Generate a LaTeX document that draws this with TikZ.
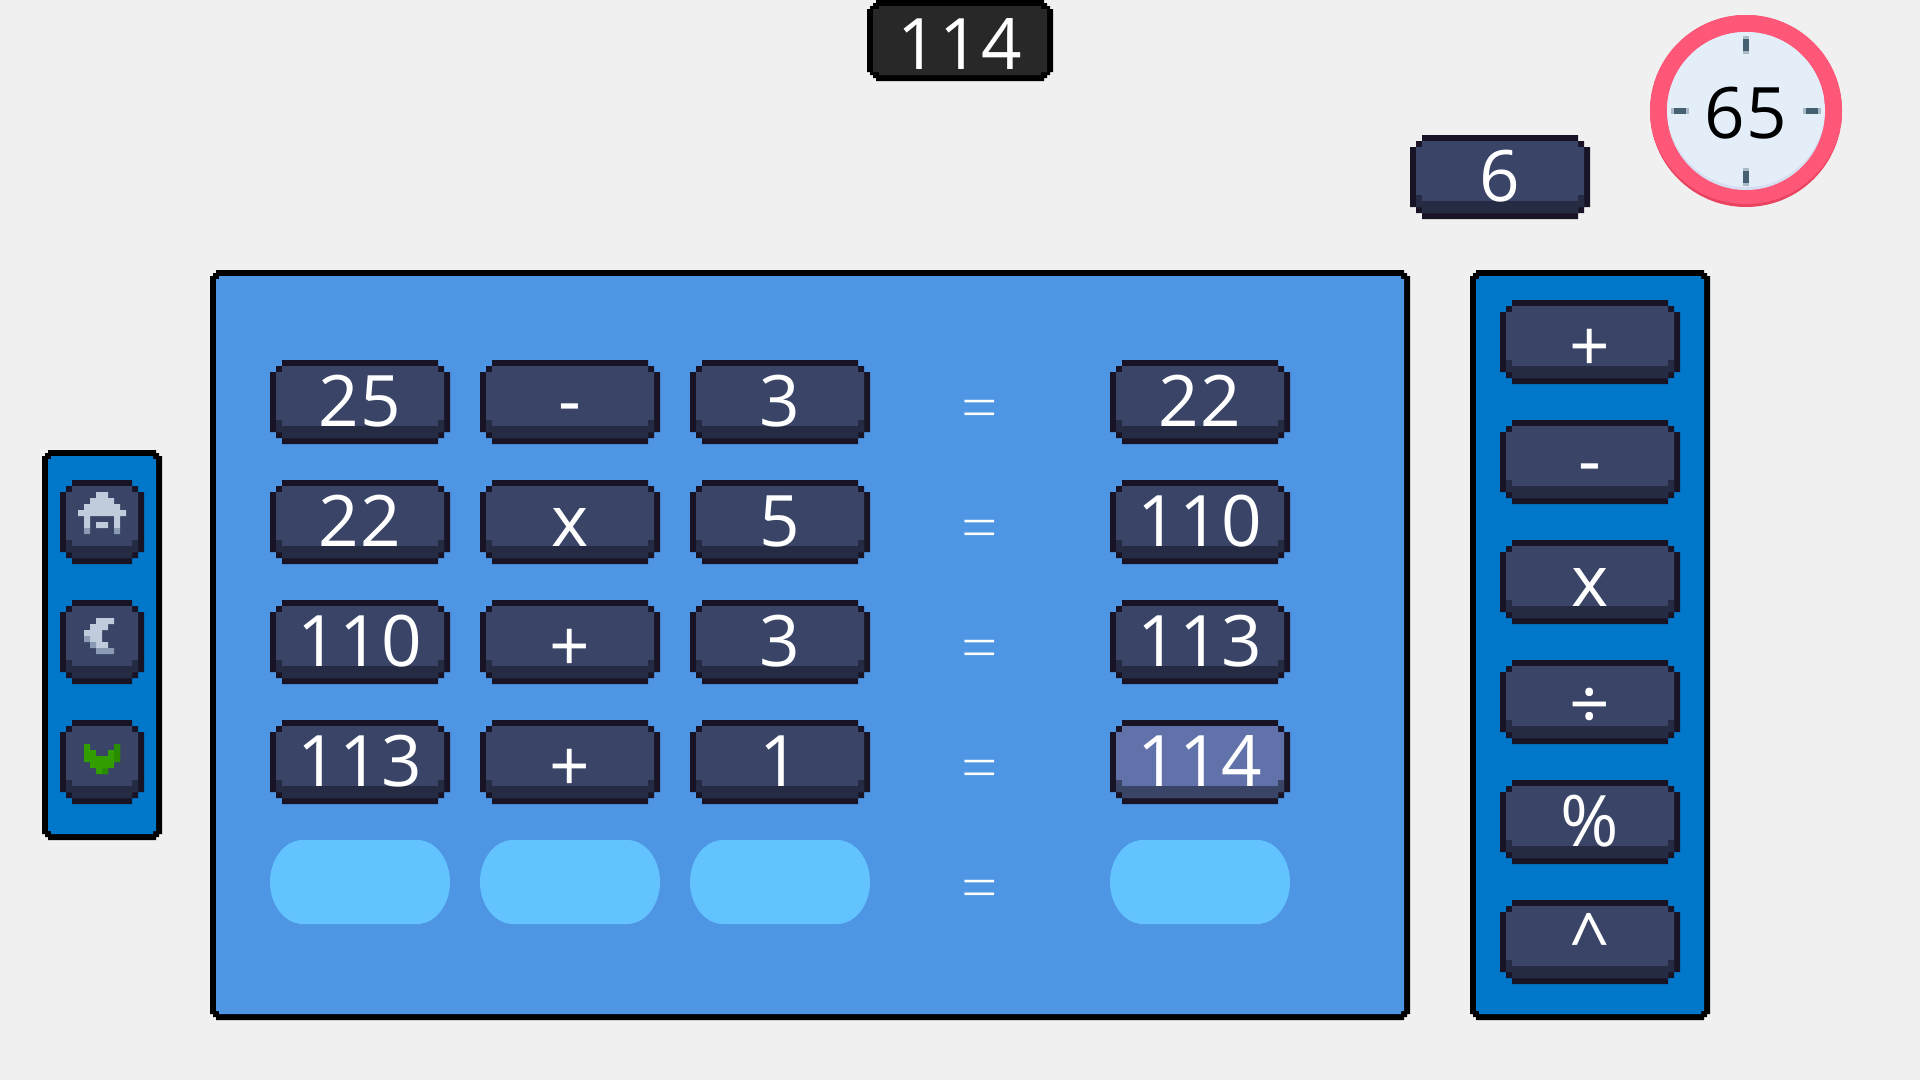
\documentclass[tikz,border=0pt]{standalone}
\usepackage{fontspec}
\setmainfont{Open Sans}[LetterSpace=2.0]
\newfontfamily\eqfont{Open Sans Light}
\definecolor{bgc}{HTML}{F0F0F0}
\definecolor{mainp}{HTML}{4E95E3}
\definecolor{sidep}{HTML}{0077C8}
\definecolor{btnfill}{HTML}{3A4466}
\definecolor{btnband}{HTML}{262B44}
\definecolor{btnline}{HTML}{181425}
\definecolor{hifill}{HTML}{6172AB}
\definecolor{pillc}{HTML}{63C3FF}
\definecolor{topfill}{HTML}{282828}
\definecolor{ringc}{HTML}{FF5777}
\definecolor{ringd}{HTML}{E9435F}
\definecolor{facec}{HTML}{E4EEF9}
\definecolor{faced}{HTML}{D5DFF1}
\definecolor{tickc}{HTML}{456070}
\definecolor{tickh}{HTML}{A9B9C6}
\definecolor{iconc}{HTML}{C0CBDC}
\definecolor{icond}{HTML}{8B9BB4}
\definecolor{checkc}{HTML}{329E00}
\definecolor{checkd}{HTML}{2A8C00}
\tikzset{
  gtext/.style={anchor=base,inner sep=0pt,outer sep=0pt,text=white,font=\fontsize{71}{71}\selectfont},
  eqtext/.style={anchor=base,inner sep=0pt,outer sep=0pt,text=white,font=\eqfont\fontsize{64}{64}\selectfont}
}
\newcommand\lowered[2]{\raisebox{-#1pt}{#2}}
% name, x, y, width, fill, band, text
\newcommand\gamebtn[7]{%
  \begin{scope}[shift={(#2,#3)}]
    \pgfmathsetmacro\bw{#4}
    \fill[btnline] (12,0) -- ({\bw-12},0) -- ({\bw-12},6) -- ({\bw-6},6) -- ({\bw-6},12) -- (\bw,12) -- (\bw,72) -- ({\bw-6},72) -- ({\bw-6},78) -- ({\bw-12},78) -- ({\bw-12},84) -- (12,84) -- (12,78) -- (6,78) -- (6,72) -- (0,72) -- (0,12) -- (6,12) -- (6,6) -- (12,6) -- cycle;
    \fill[#5] (12,6) -- ({\bw-12},6) -- ({\bw-12},12) -- ({\bw-6},12) -- ({\bw-6},72) -- ({\bw-12},72) -- ({\bw-12},78) -- (12,78) -- (12,72) -- (6,72) -- (6,12) -- (12,12) -- cycle;
    \fill[#6] (12,66) rectangle ({\bw-12},78);
    \fill[#6] (6,60) rectangle (12,72);
    \fill[#6] ({\bw-12},60) rectangle ({\bw-6},72);
    \node[gtext] (#1) at ({\bw/2},66) {#7};
  \end{scope}}
% x, y, w, h, fill
\newcommand\gamepanel[5]{%
  \begin{scope}[shift={(#1,#2)}]
    \pgfmathsetmacro\pw{#3}\pgfmathsetmacro\ph{#4}
    \fill[black] (6,0) -- ({\pw-6},0) -- ({\pw-6},3) -- ({\pw-3},3) -- ({\pw-3},6) -- (\pw,6) -- (\pw,{\ph-6}) -- ({\pw-3},{\ph-6}) -- ({\pw-3},{\ph-3}) -- ({\pw-6},{\ph-3}) -- ({\pw-6},\ph) -- (6,\ph) -- (6,{\ph-3}) -- (3,{\ph-3}) -- (3,{\ph-6}) -- (0,{\ph-6}) -- (0,6) -- (3,6) -- (3,3) -- (6,3) -- cycle;
    \fill[#5] (9,6) -- ({\pw-9},6) -- ({\pw-9},9) -- ({\pw-6},9) -- ({\pw-6},{\ph-9}) -- ({\pw-9},{\ph-9}) -- ({\pw-9},{\ph-6}) -- (9,{\ph-6}) -- (9,{\ph-9}) -- (6,{\ph-9}) -- (6,9) -- (9,9) -- cycle;
  \end{scope}}
\newcommand\gamepill[2]{%
  \fill[pillc] ({#1+33},#2) -- ({#1+147},#2) arc[start angle=-90,end angle=90,x radius=33,y radius=42] -- ({#1+33},{#2+84}) arc[start angle=90,end angle=270,x radius=33,y radius=42] -- cycle;}
\begin{document}
\begin{tikzpicture}[x=1pt,y=-1pt]
\useasboundingbox (0,0) rectangle (1920,1080);
\fill[bgc] (0,0) rectangle (1920,1080);

% top display
\fill[black] (876,0) -- (1044,0) -- (1044,3) -- (1047,3) -- (1047,6) -- (1050,6) -- (1050,9) -- (1053,9) -- (1053,72) -- (1050,72) -- (1050,75) -- (1047,75) -- (1047,78) -- (1044,78) -- (1044,81) -- (876,81) -- (876,78) -- (873,78) -- (873,75) -- (870,75) -- (870,72) -- (867,72) -- (867,9) -- (870,9) -- (870,6) -- (873,6) -- (873,3) -- (876,3) -- cycle;
\fill[topfill] (879,6) -- (1041,6) -- (1041,9) -- (1047,9) -- (1047,72) -- (1041,72) -- (1041,75) -- (879,75) -- (879,72) -- (873,72) -- (873,9) -- (879,9) -- cycle;
\node[gtext] (target) at (960,69) {114};

% timer
\fill[ringd] (1746,111) circle[radius=96];
\begin{scope}
  \clip (1746,111) circle[radius=96];
  \fill[ringc] (1746,107) circle[radius=97];
\end{scope}
\fill[faced] (1746,111) circle[radius=79];
\begin{scope}
  \clip (1746,111) circle[radius=79];
  \fill[facec] (1746,108) circle[radius=79];
\end{scope}
\fill[tickh] (1743,36) rectangle (1749,54);
\fill[tickh] (1743,168) rectangle (1749,186);
\fill[tickh] (1671,108) rectangle (1689,114);
\fill[tickh] (1803,108) rectangle (1821,114);
\fill[tickc] (1743,39) rectangle (1749,51);
\fill[tickc] (1743,171) rectangle (1749,183);
\fill[tickc] (1674,108) rectangle (1686,114);
\fill[tickc] (1806,108) rectangle (1818,114);
\node[gtext,text=black] (timer) at (1746,138) {65};

\gamebtn{steps}{1410}{135}{180}{btnfill}{btnband}{6}

% panels
\gamepanel{210}{270}{1200}{750}{mainp}
\gamepanel{1470}{270}{240}{750}{sidep}
\gamepanel{42}{450}{120}{390}{sidep}

% rows
\gamebtn{a1}{270}{360}{180}{btnfill}{btnband}{25}
\gamebtn{b1}{480}{360}{180}{btnfill}{btnband}{\lowered{-1}{-}}
\gamebtn{c1}{690}{360}{180}{btnfill}{btnband}{3}
\gamebtn{d1}{1110}{360}{180}{btnfill}{btnband}{22}
\gamebtn{a2}{270}{480}{180}{btnfill}{btnband}{22}
\gamebtn{b2}{480}{480}{180}{btnfill}{btnband}{x}
\gamebtn{c2}{690}{480}{180}{btnfill}{btnband}{5}
\gamebtn{d2}{1110}{480}{180}{btnfill}{btnband}{110}
\gamebtn{a3}{270}{600}{180}{btnfill}{btnband}{110}
\gamebtn{b3}{480}{600}{180}{btnfill}{btnband}{\lowered{5}{+}}
\gamebtn{c3}{690}{600}{180}{btnfill}{btnband}{3}
\gamebtn{d3}{1110}{600}{180}{btnfill}{btnband}{113}
\gamebtn{a4}{270}{720}{180}{btnfill}{btnband}{113}
\gamebtn{b4}{480}{720}{180}{btnfill}{btnband}{\lowered{5}{+}}
\gamebtn{c4}{690}{720}{180}{btnfill}{btnband}{1}
\gamebtn{d4}{1110}{720}{180}{hifill}{btnfill}{114}
\gamepill{270}{840}
\gamepill{480}{840}
\gamepill{690}{840}
\gamepill{1110}{840}
\node[eqtext] (e1) at (980,430) {=};
\node[eqtext] (e2) at (980,550) {=};
\node[eqtext] (e3) at (980,670) {=};
\node[eqtext] (e4) at (980,790) {=};
\node[eqtext] (e5) at (980,910) {=};

% operators
\gamebtn{plus}{1500}{300}{180}{btnfill}{btnband}{\lowered{5}{+}}
\gamebtn{minus}{1500}{420}{180}{btnfill}{btnband}{\lowered{-1}{-}}
\gamebtn{times}{1500}{540}{180}{btnfill}{btnband}{x}
\gamebtn{divide}{1500}{660}{180}{btnfill}{btnband}{\lowered{3}{÷}}
\gamebtn{percent}{1500}{780}{180}{btnfill}{btnband}{\%}
\gamebtn{caret}{1500}{900}{180}{btnfill}{btnband}{\lowered{-2}{\char`\^}}

% side buttons
\gamebtn{home}{60}{480}{84}{btnfill}{btnband}{}
\gamebtn{back}{60}{600}{84}{btnfill}{btnband}{}
\gamebtn{ok}{60}{720}{84}{btnfill}{btnband}{}

% home icon
\fill[iconc] (96,492) rectangle (108,498) (90,498) rectangle (114,504) (84,504) rectangle (120,510) (78,510) rectangle (126,516) (84,516) rectangle (90,528) (114,516) rectangle (120,528) (96,522) rectangle (108,528);
\fill[icond] (84,528) rectangle (90,534) (114,528) rectangle (120,534);
% back icon
\fill[iconc] (96,618) rectangle (114,624) (90,624) rectangle (108,630) (84,630) rectangle (102,636) (90,636) rectangle (102,642) (96,642) rectangle (108,648);
\fill[icond] (84,636) rectangle (90,642) (90,642) rectangle (96,648) (96,648) rectangle (114,654);
% check icon
\fill[checkc] (84,744) rectangle (90,750) (114,744) rectangle (120,750) (84,750) rectangle (96,756) (108,750) rectangle (120,756) (84,756) rectangle (120,762) (90,762) rectangle (114,768) (96,768) rectangle (108,774);
\fill[checkd] (114,744) rectangle (120,762) (102,768) rectangle (108,774);
\end{tikzpicture}
\end{document}
